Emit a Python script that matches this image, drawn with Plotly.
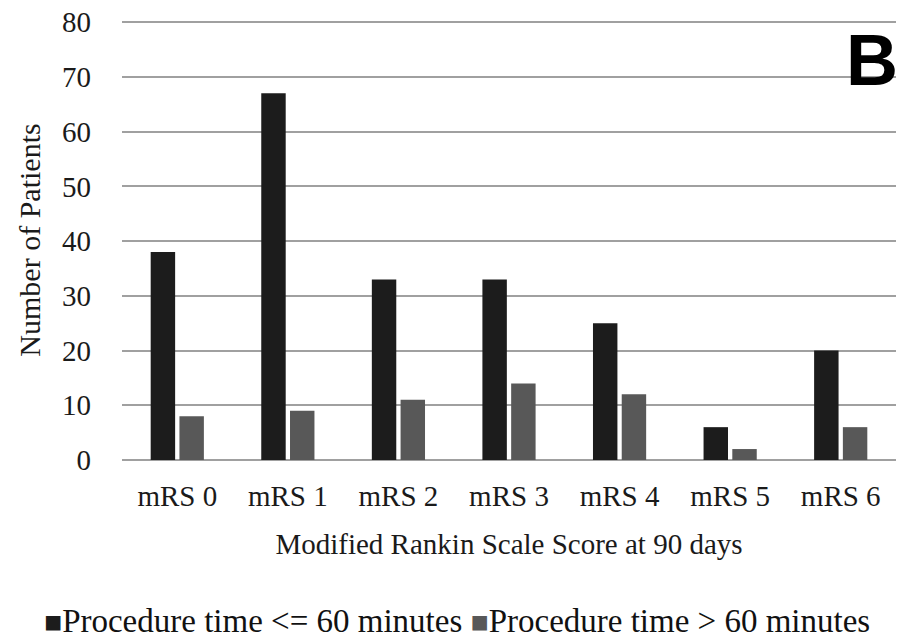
import plotly.graph_objects as go

categories = ["mRS 0", "mRS 1", "mRS 2", "mRS 3", "mRS 4", "mRS 5", "mRS 6"]
le60 = [38, 67, 33, 33, 25, 6, 20]
gt60 = [8, 9, 11, 14, 12, 2, 6]
series_names = ["Procedure time <= 60 minutes", "Procedure time > 60 minutes"]
series_colors = ["#1c1c1c", "#585858"]
y_ticks = [0, 10, 20, 30, 40, 50, 60, 70, 80]

serif = "Liberation Serif, Times New Roman, serif"

fig = go.Figure()
fig.add_trace(go.Bar(x=categories, y=le60, name=series_names[0],
                     marker=dict(color=series_colors[0], line=dict(width=0))))
fig.add_trace(go.Bar(x=categories, y=gt60, name=series_names[1],
                     marker=dict(color=series_colors[1], line=dict(width=0))))

legend_text = " ".join(
    f'<span style="color:{c}; font-size:30px">■</span>{n.replace("<", "&lt;").replace(">", "&gt;")}'
    for n, c in zip(series_names, series_colors)
)

fig.update_layout(
    width=904, height=643,
    margin=dict(l=122, r=8, t=20, b=183, autoexpand=False),
    paper_bgcolor="white", plot_bgcolor="white",
    barmode="group", bargap=0.48, bargroupgap=0.15,
    font=dict(family=serif, size=29, color="#1a1a1a"),
    showlegend=False,
    xaxis=dict(tickfont=dict(size=29), ticklabelstandoff=16, showgrid=False,
               showline=False, ticks="",
               title=dict(text="Modified Rankin Scale Score at 90 days",
                          font=dict(size=29), standoff=22)),
    yaxis=dict(range=[0, 80.4], tickvals=y_ticks, tickfont=dict(size=29),
               showgrid=True, gridcolor="#a0a0a0", gridwidth=2,
               zeroline=True, zerolinecolor="#a0a0a0", zerolinewidth=2,
               ticklabelstandoff=30, ticks="",
               title=dict(text="Number of Patients", font=dict(size=30), standoff=12)),
    annotations=[
        dict(text="<b>B</b>", xref="paper", yref="paper", x=1.005, y=0.91,
             xanchor="right", yanchor="middle", showarrow=False,
             font=dict(family="Liberation Sans, Arial, sans-serif", size=72, color="black")),
        dict(text=legend_text, xref="paper", yref="paper", x=(457 - 122) / 774,
             y=(460 - 620) / 438, xanchor="center", yanchor="middle", showarrow=False,
             font=dict(family=serif, size=33, color="#111111")),
    ],
)

fig.write_html("out.html")
